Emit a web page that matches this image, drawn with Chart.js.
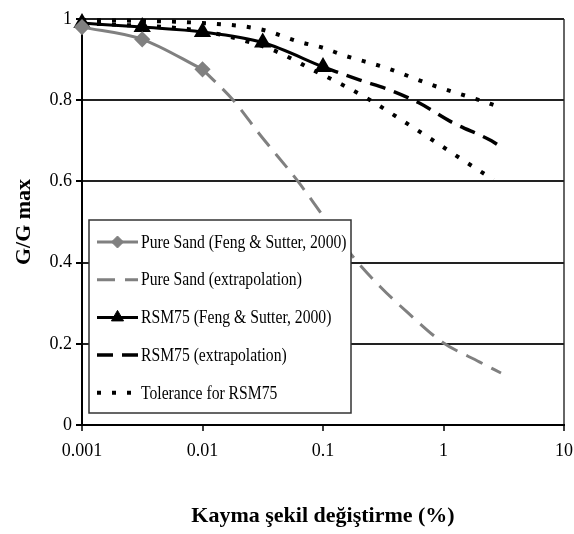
<!DOCTYPE html>
<html>
<head>
<meta charset="utf-8">
<script src="https://cdn.jsdelivr.net/npm/chart.js@4.4.1/dist/chart.umd.min.js"></script>
<style>
  html, body { margin: 0; padding: 0; background: #fff; }
</style>
</head>
<body>
<canvas id="gg-canvas" width="574" height="534"></canvas>
<script>
/* G/Gmax vs shear strain */
const xTicks = [0.001, 0.01, 0.1, 1, 10];
const xTickLabels = ['0.001', '0.01', '0.1', '1', '10'];

const pureSandX = [0.001, 0.00316, 0.01];
const pureSandY = [0.98, 0.95, 0.876];

const pureExtX = [0.01, 0.018, 0.03, 0.062, 0.1, 0.178, 0.3, 0.5, 0.98, 2, 3];
const pureExtY = [0.876, 0.80, 0.715, 0.60, 0.515, 0.414, 0.34, 0.278, 0.204, 0.155, 0.128];

const rsmX = [0.001, 0.00316, 0.01, 0.0316, 0.1];
const rsmY = [0.99, 0.98, 0.968, 0.942, 0.882];

const rsmExtX = [0.1, 0.2, 0.36, 0.63, 1.17, 2.5, 3];
const rsmExtY = [0.882, 0.85, 0.825, 0.793, 0.746, 0.70, 0.685];

const tolUpX = [0.001, 0.01, 0.03, 0.065, 0.1, 0.147, 0.34, 0.81, 2, 2.8];
const tolUpY = [0.998, 0.99, 0.975, 0.943, 0.929, 0.911, 0.879, 0.837, 0.80, 0.785];

const tolLowX = [0.001, 0.01, 0.03, 0.044, 0.083, 0.147, 0.26, 0.45, 0.81, 1.44, 2.6];
const tolLowY = [0.99, 0.97, 0.935, 0.916, 0.874, 0.837, 0.796, 0.751, 0.702, 0.653, 0.604];

function pts(xs, ys){
  return xs.map((x, i) => ({x: x, y: ys[i]}));
}

Chart.defaults.font.family = "'Liberation Serif', 'Times New Roman', serif";
Chart.defaults.color = '#000';

// legend box drawn inside the plot, one row per labelled dataset
const legendBox = {
  id: 'legendBox',
  afterDraw(chart){
    const ctx = chart.ctx;
    const area = chart.chartArea;
    const x0 = area.left + 7, y0 = area.top + 201, w = 262, h = 193;
    ctx.save();
    ctx.fillStyle = '#fff';
    ctx.fillRect(x0, y0, w, h);
    ctx.lineWidth = 1.5;
    ctx.strokeStyle = '#333';
    ctx.strokeRect(x0, y0, w, h);
    const items = chart.data.datasets.filter(ds => ds.label);
    items.forEach(function(ds, i){
      const y = y0 + 22 + i * 37.7;
      const xa = x0 + 8, xb = x0 + 49;
      ctx.beginPath();
      ctx.setLineDash(ds.borderDash || []);
      ctx.lineCap = 'butt';
      ctx.lineWidth = ds.borderWidth;
      ctx.strokeStyle = ds.borderColor;
      ctx.moveTo(xa, y);
      ctx.lineTo(xb, y);
      ctx.stroke();
      ctx.setLineDash([]);
      if(ds.pointRadius > 0){
        ctx.fillStyle = ds.pointBackgroundColor;
        ctx.strokeStyle = ds.pointBorderColor;
        ctx.lineWidth = 1;
        Chart.helpers.drawPoint(ctx, {pointStyle: ds.pointStyle, radius: ds.pointRadius, borderWidth: 1, rotation: 0}, (xa + xb) / 2, y);
      }
      ctx.save();
      ctx.translate(xb + 3, y);
      ctx.scale(0.87, 1);
      ctx.fillStyle = '#000';
      ctx.font = "18px 'Liberation Serif'";
      ctx.textBaseline = 'middle';
      ctx.fillText(ds.label, 0, 1);
      ctx.restore();
    });
    ctx.restore();
  }
};

const grey = '#808080';
const ctx = document.getElementById('gg-canvas');
const myChart = new Chart(ctx, {
  type: 'line',
  plugins: [legendBox],
  data: {
    datasets: [{
      label: 'Pure Sand (Feng & Sutter, 2000)',
      data: pts(pureSandX, pureSandY),
      borderColor: grey, borderWidth: 3,
      pointStyle: 'rectRot', pointRadius: 6,
      pointBackgroundColor: grey, pointBorderColor: grey,
      cubicInterpolationMode: 'monotone', clip: false
    }, {
      label: 'Pure Sand (extrapolation)',
      data: pts(pureExtX, pureExtY),
      borderColor: grey, borderWidth: 3, borderDash: [18, 10],
      pointRadius: 0, cubicInterpolationMode: 'monotone', clip: false
    }, {
      label: 'RSM75 (Feng & Sutter, 2000)',
      data: pts(rsmX, rsmY),
      borderColor: '#000', borderWidth: 3,
      pointStyle: 'triangle', pointRadius: 7,
      pointBackgroundColor: '#000', pointBorderColor: '#000',
      cubicInterpolationMode: 'monotone', clip: false
    }, {
      label: 'RSM75 (extrapolation)',
      data: pts(rsmExtX, rsmExtY),
      borderColor: '#000', borderWidth: 3.5, borderDash: [16, 9],
      pointRadius: 0, cubicInterpolationMode: 'monotone', clip: false
    }, {
      label: 'Tolerance for RSM75',
      data: pts(tolUpX, tolUpY),
      borderColor: '#000', borderWidth: 4, borderDash: [4, 11],
      pointRadius: 0, cubicInterpolationMode: 'monotone', clip: false
    }, {
      label: '',
      data: pts(tolLowX, tolLowY),
      borderColor: '#000', borderWidth: 4, borderDash: [4, 11],
      pointRadius: 0, cubicInterpolationMode: 'monotone', clip: false
    }]
  },
  options: {
    responsive: false,
    animation: false,
    events: [],
    layout: {
      padding: {top: 19, right: 8, left: 0, bottom: 0}
    },
    plugins: {
      legend: {display: false},
      tooltip: {enabled: false}
    },
    scales: {
      x: {
        type: 'logarithmic',
        min: 0.001,
        max: 10,
        afterBuildTicks: function(s){ s.ticks = xTicks.map(v => ({value: v})); },
        afterFit: function(s){ s.height = 109; s.paddingLeft = 0; s.paddingRight = 0; },
        border: {display: true, color: '#000', width: 2},
        grid: {
          color: c => (c.tick && c.tick.value === 10) ? '#666' : 'rgba(0,0,0,0)',
          lineWidth: 2,
          tickColor: '#000',
          tickLength: 6,
          tickWidth: 1.5
        },
        ticks: {
          font: {size: 18},
          padding: 9,
          maxRotation: 0,
          autoSkip: false,
          callback: function(v){ return xTickLabels[xTicks.indexOf(v)]; }
        },
        title: {
          display: true,
          text: 'Kayma şekil değiştirme (%)',
          font: {size: 22, weight: 'bold'},
          padding: {top: 4}
        }
      },
      y: {
        min: 0,
        max: 1,
        afterFit: function(s){ s.width = 82; },
        border: {color: '#000', width: 2},
        grid: {
          color: '#222',
          lineWidth: 2,
          tickColor: '#000',
          tickLength: 6
        },
        ticks: {
          stepSize: 0.2,
          font: {size: 18},
          padding: 4,
          callback: function(v){ return String(Math.round(v * 10) / 10); }
        },
        title: {
          display: true,
          text: 'G/G max',
          font: {size: 22, weight: 'bold'},
          padding: {top: 11}
        }
      }
    }
  }
});
</script>
</body>
</html>
